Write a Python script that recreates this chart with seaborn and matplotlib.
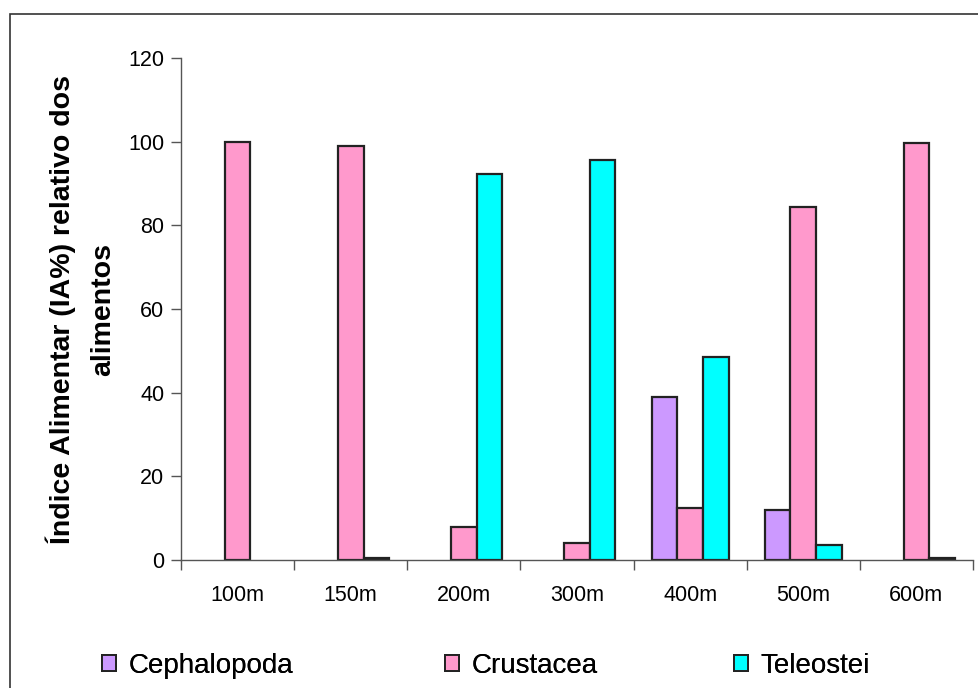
import numpy as np
import pandas as pd
import matplotlib
matplotlib.use('Agg')
import matplotlib.pyplot as plt
import matplotlib.ticker as ticker
from matplotlib.patches import Rectangle, Patch
import seaborn as sns

# Data
depths = ['100m', '150m', '200m', '300m', '400m', '500m', '600m']
cephalopoda = [0, 0, 0, 0, 39, 12, 0]
crustacea = [100, 99, 7.8, 4.1, 12.4, 84.4, 99.6]
teleostei = [0, 0.5, 92.3, 95.6, 48.5, 3.6, 0.5]
groups = ['Cephalopoda', 'Crustacea', 'Teleostei']
colors = ['#CC99FF', '#FF99CC', '#00FFFF']
y_ticks = [0, 20, 40, 60, 80, 100, 120]

df = pd.DataFrame({'depth': depths, 'Cephalopoda': cephalopoda,
                   'Crustacea': crustacea, 'Teleostei': teleostei})
long = df.melt(id_vars='depth', var_name='grupo', value_name='IA')
# absent items are not drawn at all
long['IA'] = long['IA'].replace(0, np.nan)

sns.set_theme(style='white')
plt.rcParams['font.family'] = ['Liberation Sans', 'DejaVu Sans']
plt.rcParams['text.color'] = 'black'
plt.rcParams['axes.labelcolor'] = 'black'
plt.rcParams['xtick.color'] = 'black'
plt.rcParams['ytick.color'] = 'black'

fig = plt.figure(figsize=(9.79, 6.88), dpi=100)
ax = fig.add_axes([181 / 979, 1 - 560 / 688, (973 - 181) / 979, (560 - 58) / 688])

sns.barplot(data=long, x='depth', y='IA', hue='grupo', hue_order=groups,
            palette=colors, width=0.68, edgecolor='#222222', linewidth=1.6,
            saturation=1, legend=False, ax=ax)

ax.set_ylim(0, 120)
ax.set_xlim(-0.5, len(depths) - 0.5)
ax.set_yticks(y_ticks)
ax.set_xlabel('')
ax.set_ylabel('Índice Alimentar (IA%) relativo dos\nalimentos', fontsize=20.5,
              fontweight='bold', labelpad=9, linespacing=1.7)

# category boundaries get the tick marks, labels sit at centres
ax.xaxis.set_minor_locator(ticker.FixedLocator(np.arange(-0.5, len(depths), 1)))
ax.tick_params(axis='x', which='major', length=0, labelsize=15.5, pad=18)
ax.tick_params(axis='x', which='minor', length=7, width=1, color='#555555', direction='out', bottom=True)
ax.tick_params(axis='y', which='major', length=7, width=1, color='#555555', direction='out',
               left=True, labelsize=15.5, pad=5)

for side in ['top', 'right']:
    ax.spines[side].set_visible(False)
for side in ['left', 'bottom']:
    ax.spines[side].set_color('#555555')
    ax.spines[side].set_linewidth(1)

# outer frame of the chart area
fig.patches.append(Rectangle((10 / 979, -0.05), 1.1, 1 - 14 / 688 + 0.05,
                             transform=fig.transFigure, fill=False,
                             edgecolor='#333333', linewidth=1.2))

# one legend entry per group, spread along the bottom
legend_x = [91, 434, 723]
for g, c, lx in zip(groups, colors, legend_x):
    h = Patch(facecolor=c, edgecolor='#222222', linewidth=1.4, label=g)
    leg = fig.legend(handles=[h], loc='center left', bbox_to_anchor=(lx / 979, 1 - 666 / 688),
                     frameon=False, fontsize=20, handlelength=0.5, handleheight=0.5,
                     handletextpad=0.45, borderaxespad=0)
    fig.add_artist(leg)

fig.savefig('out.png', dpi=100)
